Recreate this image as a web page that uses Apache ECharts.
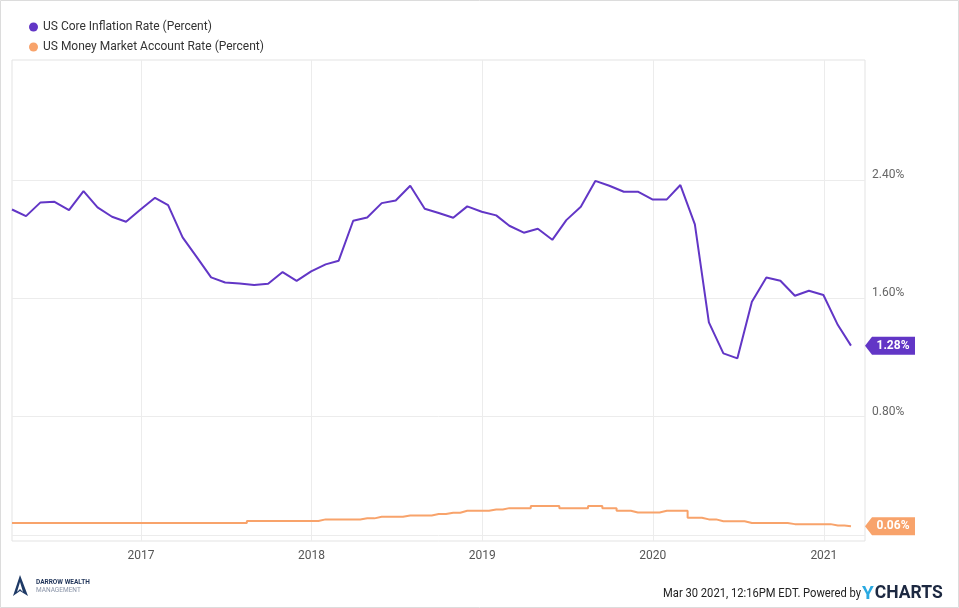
<!DOCTYPE html>
<html><head><meta charset="utf-8">
<script src="https://cdn.jsdelivr.net/npm/echarts@6/dist/echarts.min.js"></script>
<style>html,body{margin:0;padding:0;background:#fff}#c{width:959px;height:608px}</style>
</head><body><div id="c"></div><script>
const seriesNames = ['US Core Inflation Rate (Percent)', 'US Money Market Account Rate (Percent)'];
const startYear = 2016, startMonth = 3; // first monthly observation: Mar 2016 (end of month)
const coreInflation = [
  2.20, 2.155, 2.248, 2.252, 2.196, 2.324, 2.214, 2.151, 2.117, 2.20,
  2.279, 2.23, 2.011, 1.88, 1.741, 1.707, 1.70, 1.689, 1.698, 1.777, 1.718, 1.782,
  1.829, 1.854, 2.124, 2.146, 2.243, 2.261, 2.36, 2.205, 2.176, 2.144, 2.221, 2.185,
  2.16, 2.09, 2.043, 2.07, 1.995, 2.128, 2.218, 2.393, 2.36, 2.32, 2.32, 2.268,
  2.268, 2.365, 2.099, 1.437, 1.228, 1.194, 1.577, 1.741, 1.718, 1.617, 1.651, 1.622,
  1.419, 1.28
];
const moneyMarket = [
  0.081, 0.081, 0.081, 0.081, 0.081, 0.081, 0.081, 0.081, 0.081, 0.081,
  0.081, 0.081, 0.081, 0.081, 0.081, 0.081, 0.081, 0.095, 0.095, 0.095, 0.095, 0.095,
  0.106, 0.106, 0.106, 0.113, 0.124, 0.124, 0.133, 0.133, 0.142, 0.151, 0.164, 0.164,
  0.173, 0.182, 0.182, 0.196, 0.196, 0.182, 0.182, 0.196, 0.182, 0.164, 0.153, 0.153,
  0.164, 0.164, 0.117, 0.106, 0.093, 0.093, 0.081, 0.081, 0.081, 0.074, 0.074, 0.074,
  0.065, 0.06
];
const yearTicks = [2017, 2018, 2019, 2020, 2021];
const yGridValues = [0, 0.8, 1.6, 2.4];
const yLabelValues = [0.8, 1.6, 2.4];
const xRange = ['2016-03-31', '2021-03-30'];
const yRange = [-0.04, 3.21];
const footerText = 'Mar 30 2021, 12:16PM EDT. Powered by';

const purple = '#6236c6', orange = '#f8a36b';
function monthEnd(i) {
  const m = startMonth - 1 + i;
  return new Date(startYear, m + 1, 0).getTime();
}
const toTs = s => { const p = s.split('-').map(Number); return new Date(p[0], p[1]-1, p[2]).getTime(); };
const xMin = toTs(xRange[0]), xMax = toTs(xRange[1]);
const yearTs = yearTicks.map(y => new Date(y, 0, 1).getTime());
const coreData = coreInflation.map((v, i) => [monthEnd(i), v]);
const mmData = moneyMarket.map((v, i) => [monthEnd(i), v]);
const tagPath = 'path://M0,9 L7,0 L50,0 L50,18 L7,18 Z';
function tag(lastVal, color) {
  return {
    silent: true,
    symbol: tagPath,
    symbolSize: [50, 18],
    symbolOffset: ['50%', 0],
    symbolKeepAspect: false,
    itemStyle: { color: color },
    label: { show: true, position: 'inside', offset: [3, 0], color: '#fff', fontWeight: 'bold',
      fontFamily: 'Roboto', fontSize: 12, formatter: () => lastVal.toFixed(2) + '%' },
    data: [{ coord: [xMax, lastVal] }]
  };
}

const chart = echarts.init(document.getElementById('c'), null, { renderer: 'canvas' });
chart.setOption({
  animation: false,
  backgroundColor: '#fff',
  textStyle: { fontFamily: 'Roboto' },
  legend: {
    orient: 'vertical', left: 24, top: 15, itemGap: 6, itemTextGap: 5,
    icon: 'circle', itemWidth: 9, itemHeight: 9,
    textStyle: { color: '#333', fontSize: 12, fontFamily: 'Roboto', lineHeight: 14 },
    data: seriesNames
  },
  grid: { left: 12, right: 94, top: 60, bottom: 67, show: true, borderColor: '#e3e3e3', borderWidth: 1, containLabel: false },
  xAxis: {
    type: 'value', min: xMin, max: xMax, scale: true,
    axisLine: { show: false },
    axisTick: { show: false, customValues: yearTs },
    splitLine: { show: true, lineStyle: { color: '#ececec', width: 1 } },
    axisLabel: { customValues: yearTs,
      formatter: v => String(new Date(v).getFullYear()), color: '#555', fontSize: 12, margin: 9, fontFamily: 'Roboto' }
  },
  yAxis: {
    type: 'value', position: 'right', min: yRange[0], max: yRange[1],
    axisLine: { show: false },
    axisTick: { show: false, customValues: yGridValues },
    splitLine: { show: true, lineStyle: { color: '#ececec', width: 1 } },
    axisLabel: { customValues: yLabelValues, formatter: v => v.toFixed(2) + '%', color: '#666', fontSize: 12,
      margin: 7, verticalAlign: 'bottom', lineHeight: 10, fontFamily: 'Roboto' }
  },
  series: [
    { name: seriesNames[0], type: 'line', data: coreData, showSymbol: false, symbol: 'none',
      lineStyle: { color: purple, width: 2 }, itemStyle: { color: purple },
      markPoint: tag(coreInflation[coreInflation.length - 1], purple) },
    { name: seriesNames[1], type: 'line', data: mmData, showSymbol: false, symbol: 'none', step: 'middle',
      lineStyle: { color: orange, width: 2 }, itemStyle: { color: orange },
      markPoint: tag(moneyMarket[moneyMarket.length - 1], orange) }
  ],
  graphic: [
    { type: 'rect', shape: { x: 0.5, y: 0.5, width: 958, height: 607 }, style: { fill: null, stroke: '#dcdcdc', lineWidth: 1 }, silent: true },
    { type: 'polygon', shape: { points: [[20, 575], [13, 596], [20, 591], [28, 596]] }, style: { fill: '#1f3a66' } },
    { type: 'polygon', shape: { points: [[20, 582], [17, 592], [20, 589], [23, 592]] }, style: { fill: '#ffffff' } },
    { type: 'text', x: 36, y: 579, style: { text: 'DARROW WEALTH', fill: '#1f3358', font: 'bold 6.5px Roboto' } },
    { type: 'text', x: 36, y: 587, style: { text: 'MANAGEMENT', fill: '#8a94a8', font: '6.5px Roboto' } },
    { type: 'text', x: 861, y: 594, scaleX: 0.86, style: { text: footerText, fill: '#222', font: '13px Roboto', align: 'right', verticalAlign: 'middle' } },
    { type: 'text', x: 862, y: 594, style: { text: '{y|Y}{c|CHARTS}', verticalAlign: 'middle', align: 'left',
      rich: { y: { fill: '#29a9e1', font: 'bold 19px Roboto' }, c: { fill: '#1c2841', font: 'bold 17.5px Roboto', padding: [0, 0, 0, 1] } } } }
  ]
});
</script></body></html>
